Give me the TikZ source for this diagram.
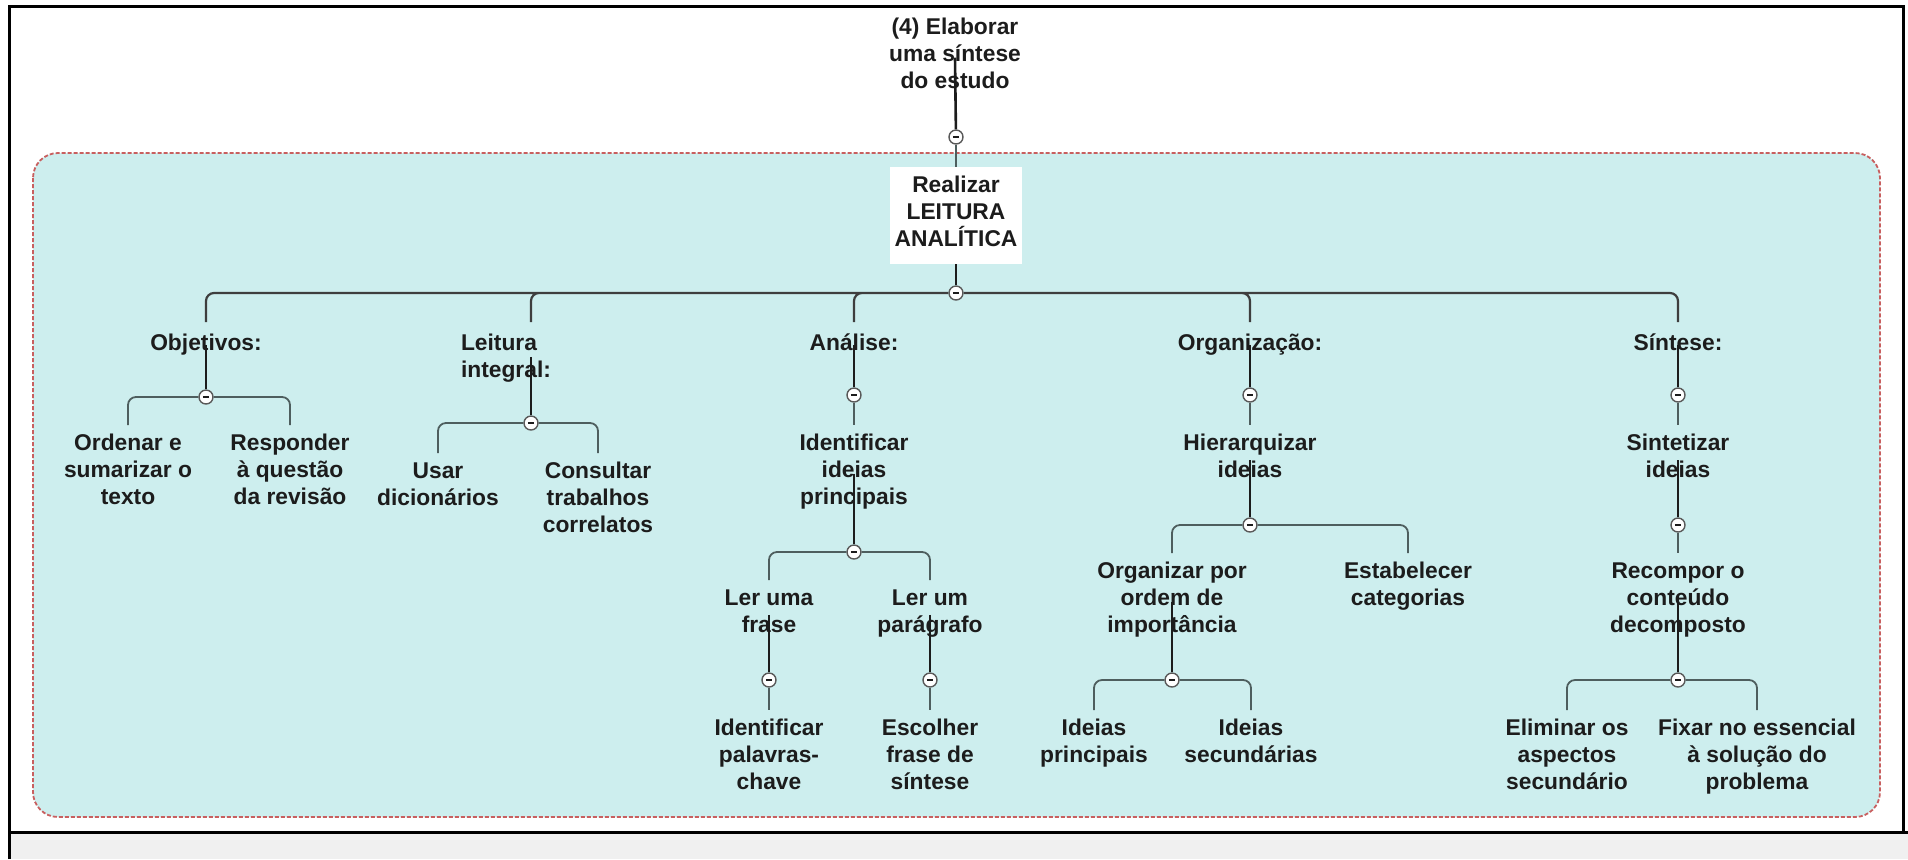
\documentclass[tikz,border=0pt]{standalone}
\usepackage{fontspec}
\setmainfont{Liberation Sans}
\usetikzlibrary{backgrounds}
\definecolor{mapteal}{RGB}{205,238,238}
\definecolor{mapedge}{RGB}{200,95,95}
\definecolor{mapline}{RGB}{78,94,94}
\definecolor{mapink}{RGB}{28,28,28}
\definecolor{mapgray}{RGB}{240,240,240}
\tikzset{
  idea/.style={align=center, anchor=north, inner xsep=0pt, inner ysep=4.5pt, text=mapink, execute at begin node=\strut},
  head/.style={idea, fill=white, inner xsep=2.5pt},
  knob/.style={circle, draw=black!65, fill=white, line width=.7pt, minimum size=7pt, inner sep=0pt,
    path picture={\draw[line width=.9pt,mapink] ([xshift=-1.6pt]path picture bounding box.center) -- ([xshift=1.6pt]path picture bounding box.center);}},
  trunk/.style={line width=1.3pt, draw=mapink},
  branch/.style={line width=.9pt, draw=mapline, rounded corners=4pt},
  bus/.style={branch, line width=1.1pt, draw=mapink!85},
}
\begin{document}
\begin{tikzpicture}[x=0.5pt,y=-0.5pt,font=\bfseries\fontsize{11.4}{13.5}\selectfont]
\useasboundingbox (0,0) rectangle (1908,859);
\begin{scope}[on background layer]
  \fill[white] (0,0) rectangle (1908,859);
  \fill[mapgray] (9,832) rectangle (1908,859);
  \draw[line width=1.5pt] (9,859) -- (9,6.5) -- (1903,6.5) -- (1903,832);
  \draw[line width=1.5pt] (9,832) -- (1908,832);
  \draw[fill=mapteal, draw=mapedge, line width=.9pt, dash pattern=on 2pt off 1pt, rounded corners=12.5pt] (33,153) rectangle (1880,817);
\end{scope}

\node[idea] (top) at (955,9) {(4) Elaborar\\uma síntese\\do estudo};
\node[knob] (k0) at (956,137) {};
\node[head] (root) at (956,167) {Realizar\\LEITURA\\ANALÍTICA};
\node[knob] (k1) at (956,293) {};

\node[idea] (obj) at (206,322) {Objetivos:};
\node[idea, text width=70pt, align=left] (lei) at (531,322) {Leitura\\integral:};
\node[idea] (ana) at (854,322) {Análise:};
\node[idea] (org) at (1250,322) {Organização:};
\node[idea] (sin) at (1678,322) {Síntese:};
\node[knob] (kobj) at (206,397) {};
\node[knob] (klei) at (531,423) {};
\node[knob] (kana) at (854,395) {};
\node[knob] (korg) at (1250,395) {};
\node[knob] (ksin) at (1678,395) {};

\node[idea] (ord) at (128,425) {Ordenar e\\sumarizar o\\texto};
\node[idea] (res) at (290,425) {Responder\\à questão\\da revisão};
\node[idea] (usa) at (438,453) {Usar\\dicionários};
\node[idea] (con) at (598,453) {Consultar\\trabalhos\\correlatos};
\node[idea] (idp) at (854,425) {Identificar\\ideias\\principais};
\node[idea] (hie) at (1250,425) {Hierarquizar\\ideias};
\node[idea] (stz) at (1678,425) {Sintetizar\\ideias};
\node[knob] (kidp) at (854,552) {};
\node[knob] (khie) at (1250,525) {};
\node[knob] (kstz) at (1678,525) {};

\node[idea] (lfr) at (769,580) {Ler uma\\frase};
\node[idea] (lpa) at (930,580) {Ler um\\parágrafo};
\node[idea] (opo) at (1172,553) {Organizar por\\ordem de\\importância};
\node[idea] (est) at (1408,553) {Estabelecer\\categorias};
\node[idea] (rec) at (1678,553) {Recompor o\\conteúdo\\decomposto};
\node[knob] (klfr) at (769,680) {};
\node[knob] (klpa) at (930,680) {};
\node[knob] (kopo) at (1172,680) {};
\node[knob] (krec) at (1678,680) {};

\node[idea] (ipc) at (769,710) {Identificar\\palavras-\\chave};
\node[idea] (esc) at (930,710) {Escolher\\frase de\\síntese};
\node[idea] (ipr) at (1094,710) {Ideias\\principais};
\node[idea] (isc) at (1251,710) {Ideias\\secundárias};
\node[idea] (eli) at (1567,710) {Eliminar os\\aspectos\\secundário};
\node[idea] (fix) at (1757,710) {Fixar no essencial\\à solução do\\problema};

\begin{scope}[on background layer]
  \draw[trunk] (top.center) -- (k0);
  \draw[branch] (k0) -- (root);
  \draw[trunk] (root) -- (k1);
  \draw[bus] (k1) -| (obj.north) (k1) -| (lei.north) (k1) -| (ana.north) (k1) -| (org.north) (k1) -| (sin.north);
  \draw[trunk] (obj.center) -- (kobj) (lei.center) -- (klei) (ana.center) -- (kana) (org.center) -- (korg) (sin.center) -- (ksin);
  \draw[branch] (kobj) -| (ord.north) (kobj) -| (res.north);
  \draw[branch] (klei) -| (usa.north) (klei) -| (con.north);
  \draw[branch] (kana) -- (idp.north) (korg) -- (hie.north) (ksin) -- (stz.north);
  \draw[trunk] (idp.center) -- (kidp) (hie.center) -- (khie) (stz.center) -- (kstz);
  \draw[branch] (kidp) -| (lfr.north) (kidp) -| (lpa.north);
  \draw[branch] (khie) -| (opo.north) (khie) -| (est.north);
  \draw[branch] (kstz) -- (rec.north);
  \draw[trunk] (lfr.center) -- (klfr) (lpa.center) -- (klpa) (opo.center) -- (kopo) (rec.center) -- (krec);
  \draw[branch] (klfr) -- (ipc.north) (klpa) -- (esc.north);
  \draw[branch] (kopo) -| (ipr.north) (kopo) -| (isc.north);
  \draw[branch] (krec) -| (eli.north) (krec) -| (fix.north);
\end{scope}
\end{tikzpicture}
\end{document}
